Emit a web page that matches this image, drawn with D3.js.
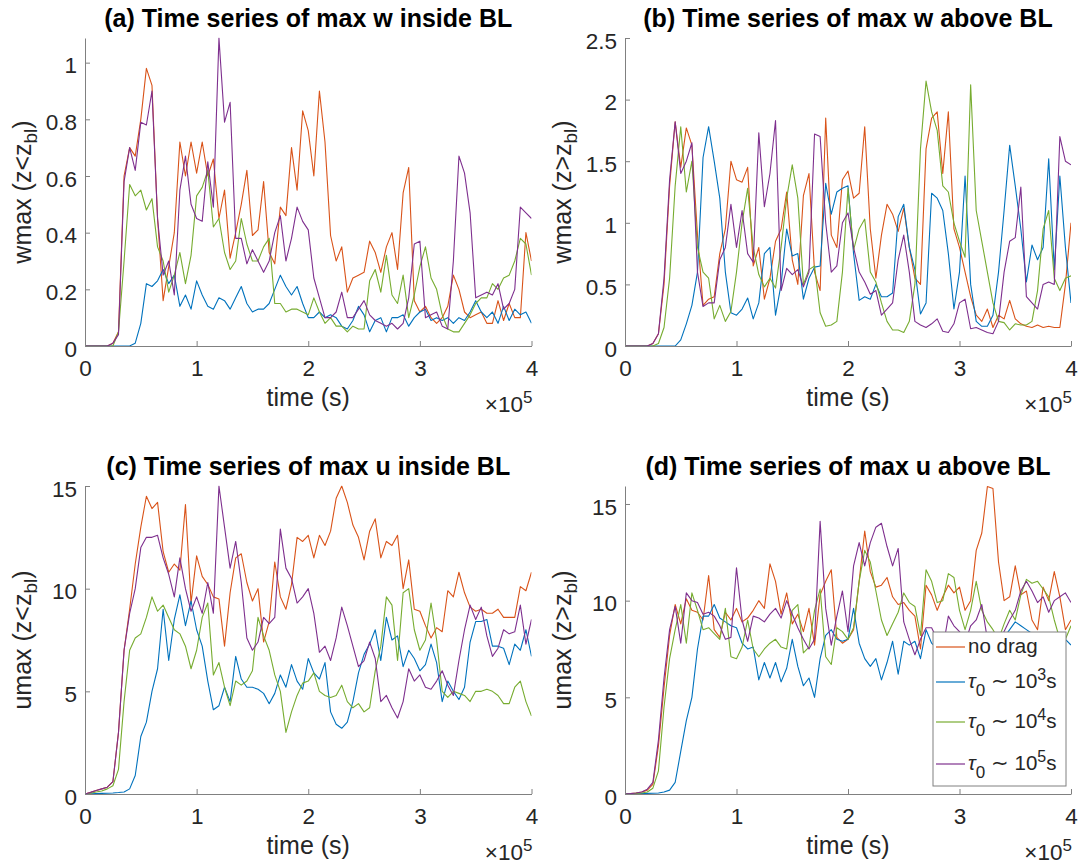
<!DOCTYPE html>
<html>
<head>
<meta charset="utf-8">
<script src="https://cdn.jsdelivr.net/npm/d3@7"></script>
<style>
  html, body { margin: 0; padding: 0; background: #ffffff; }
  svg { display: block; font-family: "Liberation Sans", Arial, Helvetica, sans-serif; }
</style>
</head>
<body>
<svg id="chart" width="1078" height="868"></svg>
<script>
// ---------------- data ----------------
const timeSec = [0,5000,10000,15000,20000,25000,30000,35000,40000,45000,50000,55000,60000,65000,70000,75000,80000,85000,90000,95000,
  100000,105000,110000,115000,120000,125000,130000,135000,140000,145000,150000,155000,160000,165000,170000,175000,180000,185000,190000,195000,
  200000,205000,210000,215000,220000,225000,230000,235000,240000,245000,250000,255000,260000,265000,270000,275000,280000,285000,290000,295000,
  300000,305000,310000,315000,320000,325000,330000,335000,340000,345000,350000,355000,360000,365000,370000,375000,380000,385000,390000,395000,400000];

const seriesNames = ["no drag", "tau3", "tau4", "tau5"];
const seriesColors = ["#D95319", "#0072BD", "#77AC30", "#7E2F8E"];

// (a) max w inside BL
const wInNoDrag = [0,0,0,0,0,0.01,0.05,0.6,0.7,0.67,0.8,0.98,0.92,0.45,0.16,0.28,0.4,0.72,0.6,0.72,0.61,0.72,0.6,0.66,0.45,0.55,0.31,0.4,0.5,0.62,0.39,0.41,0.58,0.33,0.29,0.49,0.46,0.7,0.55,0.83,0.76,0.6,0.9,0.72,0.39,0.3,0.35,0.19,0.24,0.25,0.26,0.37,0.33,0.26,0.35,0.4,0.27,0.54,0.63,0.16,0.12,0.14,0.1,0.08,0.1,0.14,0.25,0.2,0.12,0.1,0.11,0.12,0.08,0.08,0.16,0.09,0.15,0.1,0.1,0.4,0.3];
const wInTau3 = [0,0,0,0,0,0,0,0,0,0.01,0.08,0.22,0.21,0.23,0.27,0.22,0.25,0.14,0.18,0.13,0.23,0.18,0.14,0.13,0.17,0.16,0.13,0.17,0.21,0.15,0.12,0.13,0.13,0.15,0.2,0.25,0.21,0.18,0.21,0.15,0.1,0.1,0.12,0.1,0.11,0.1,0.07,0.06,0.09,0.14,0.11,0.05,0.09,0.1,0.05,0.1,0.1,0.11,0.07,0.1,0.12,0.13,0.09,0.1,0.09,0.1,0.08,0.1,0.09,0.12,0.16,0.12,0.1,0.12,0.08,0.14,0.09,0.13,0.11,0.12,0.08];
const wInTau4 = [0,0,0,0,0,0,0.05,0.3,0.57,0.53,0.55,0.48,0.52,0.35,0.3,0.19,0.25,0.33,0.22,0.32,0.53,0.56,0.62,0.42,0.45,0.33,0.27,0.3,0.45,0.36,0.3,0.3,0.35,0.38,0.15,0.15,0.12,0.13,0.13,0.12,0.11,0.17,0.12,0.08,0.1,0.07,0.07,0.05,0.07,0.06,0.06,0.23,0.27,0.19,0.32,0.18,0.15,0.25,0.1,0.18,0.28,0.35,0.24,0.2,0.11,0.06,0.05,0.05,0.08,0.11,0.15,0.17,0.17,0.22,0.2,0.24,0.25,0.3,0.38,0.36,0.25];
const wInTau5 = [0,0,0,0,0,0.01,0.04,0.58,0.7,0.62,0.79,0.78,0.9,0.45,0.25,0.3,0.18,0.55,0.67,0.5,0.45,0.44,0.65,0.49,1.087,0.79,0.86,0.38,0.38,0.29,0.34,0.3,0.26,0.3,0.4,0.46,0.3,0.38,0.49,0.44,0.41,0.24,0.17,0.1,0.1,0.12,0.19,0.1,0.1,0.13,0.16,0.11,0.09,0.08,0.07,0.08,0.06,0.08,0.17,0.36,0.37,0.1,0.11,0.12,0.07,0.06,0.3,0.67,0.61,0.47,0.17,0.18,0.19,0.18,0.22,0.13,0.15,0.2,0.49,0.47,0.45];

// (b) max w above BL
const wAbNoDrag = [0,0,0,0,0,0.02,0.1,0.5,1.3,1.82,1.45,1.77,1.63,0.9,0.33,0.38,0.4,0.75,0.95,1.5,1.35,1.33,1.45,0.65,0.8,0.38,0.55,0.85,0.95,1.25,0.7,0.5,1.22,1.4,0.6,0.45,1.85,0.9,0.8,1.35,1.42,1.2,1.24,1.78,0.95,0.55,0.9,1.15,1.07,0.93,1.12,0.8,0.55,0.5,1.6,1.85,1.9,1.4,1.9,0.95,0.8,0.6,0.4,0.25,0.2,0.3,0.15,0.25,0.22,0.37,0.22,0.18,0.16,0.15,0.17,0.15,0.16,0.15,0.15,0.5,1.0];
const wAbTau3 = [0,0,0,0,0,0,0,0,0,0,0.05,0.18,0.33,0.6,1.53,1.78,1.5,1.2,0.6,0.27,0.25,0.3,0.39,0.22,0.35,0.75,0.8,0.25,0.5,0.95,0.73,0.75,0.38,0.55,0.64,0.65,1.32,1.07,1.25,1.28,1.3,0.75,0.37,0.4,0.38,0.5,0.4,0.4,0.43,1.05,1.15,0.8,0.62,0.26,0.35,1.24,1.2,1.1,0.75,0.3,0.6,1.38,0.5,0.2,0.16,0.16,0.25,0.6,1.1,1.63,1.3,0.95,0.52,0.82,0.7,0.8,1.52,0.62,1.38,0.8,0.35];
const wAbTau4 = [0,0,0,0,0,0,0.02,0.15,0.55,1.3,1.78,1.25,1.5,0.8,0.6,0.55,0.22,0.33,0.2,0.28,0.6,1.0,1.28,0.8,0.58,0.48,0.55,0.47,0.8,1.2,1.47,1.2,0.5,0.62,0.65,0.27,0.16,0.17,0.2,0.6,1.28,0.78,0.95,1.03,0.6,0.52,0.35,0.2,0.13,0.13,0.11,0.2,0.5,1.6,2.15,1.9,1.75,1.3,1.25,1.0,0.85,0.72,2.12,1.1,0.85,0.6,0.35,0.2,0.19,0.13,0.18,0.17,0.17,0.2,0.45,0.95,1.1,0.55,0.45,0.55,0.57];
const wAbTau5 = [0,0,0,0,0,0.02,0.1,0.55,1.35,1.82,1.4,1.5,1.65,0.6,0.32,0.35,0.35,0.7,0.8,1.15,0.8,1.1,0.75,0.68,1.73,1.13,1.4,1.83,0.45,0.63,0.58,0.62,0.48,0.6,1.72,1.7,1.0,0.6,0.65,1.0,1.08,0.8,0.6,0.52,0.42,0.45,0.25,0.3,0.35,0.7,0.9,0.6,0.2,0.17,0.15,0.18,0.22,0.12,0.11,0.18,0.35,0.38,0.14,0.15,0.13,0.11,0.1,0.2,0.6,0.85,0.88,1.29,0.4,0.35,0.3,0.5,0.52,0.5,1.7,1.5,1.47];

// (c) max u inside BL
const uInNoDrag = [0,0.08,0.17,0.25,0.33,0.6,3.0,7.0,9.0,11.2,13.0,14.5,13.9,14.2,11.8,10.8,11.2,10.9,14.1,9.3,11.6,10.6,10.2,9.6,9.5,7.2,9.8,11.5,11.7,10.3,9.4,10.0,7.4,8.4,11.3,9.6,9.0,10.2,12.5,12.3,12.6,11.5,12.6,12.1,12.8,14.4,15.0,14.2,13.1,12.5,11.4,12.8,13.4,11.5,12.3,12.1,12.6,10.0,11.4,9.0,8.9,8.2,7.6,8.1,7.9,9.9,9.6,10.8,9.8,9.1,8.9,9.0,8.8,8.8,9.0,8.6,8.6,8.6,10.1,9.9,10.8];
const uInTau3 = [0,0.01,0.02,0.03,0.04,0.05,0.07,0.1,0.25,0.9,2.8,3.5,5.0,6.1,9.0,6.5,8.5,9.7,8.2,9.4,8.0,7.2,5.5,4.1,4.3,5.2,4.5,6.7,5.6,5.2,5.2,5.1,4.9,4.4,4.9,5.8,5.2,6.3,5.5,5.1,6.6,5.9,5.6,6.4,4.0,3.4,3.2,3.5,4.5,5.9,6.8,7.3,8.0,6.5,8.6,7.5,7.7,6.2,7.0,6.6,6.0,6.3,7.3,6.4,4.5,5.5,5.0,4.6,5.2,7.4,8.4,8.4,8.5,7.2,7.2,7.1,6.3,7.3,7.0,8.0,6.7];
const uInTau4 = [0,0.04,0.1,0.15,0.25,0.4,1.2,4.5,7.0,7.6,7.8,8.6,9.6,8.9,9.2,8.6,8.0,7.8,7.2,6.1,7.0,8.6,9.3,5.8,6.4,5.2,4.3,5.5,5.3,5.5,6.0,8.6,7.7,7.0,5.8,5.0,3.0,4.0,4.8,5.4,5.5,5.9,5.0,4.8,4.7,4.8,5.3,4.5,4.2,4.4,4.0,4.2,6.0,7.2,9.6,9.2,6.5,9.8,10.0,8.0,7.0,7.5,9.3,7.5,5.0,4.7,5.0,4.9,4.8,4.5,5.0,5.0,5.1,5.0,4.8,4.4,4.4,5.2,5.5,4.5,3.8];
const uInTau5 = [0,0.08,0.17,0.25,0.33,0.6,3.0,7.0,8.8,10.0,12.0,12.5,12.5,12.6,11.5,10.7,9.6,11.5,10.0,8.9,9.6,8.8,10.3,8.8,15.0,13.0,11.0,12.3,10.3,7.6,7.0,7.4,8.6,8.3,8.6,12.9,11.0,10.5,9.3,9.6,10.0,8.8,6.9,7.2,6.5,7.6,9.1,8.2,7.2,6.2,6.5,7.4,6.6,4.5,4.8,4.2,3.7,4.5,6.1,5.5,5.8,5.2,5.1,5.5,6.0,5.3,4.8,6.5,8.0,9.2,8.5,9.1,7.7,6.7,7.1,8.0,7.8,7.9,9.2,7.3,8.5];

// (d) max u above BL
const uAbNoDrag = [0,0.02,0.05,0.1,0.2,0.5,2.5,5.5,8.2,9.8,8.8,10.1,9.5,9.4,9.0,11.3,8.5,8.1,9.4,9.0,9.6,8.9,9.1,9.5,10.0,9.6,11.9,11.0,9.3,10.4,8.8,9.3,8.4,9.6,7.7,10.3,11.0,11.6,8.1,7.8,8.0,8.5,11.0,13.6,11.5,10.7,10.8,11.2,10.2,9.8,9.9,9.5,9.2,7.5,10.8,10.3,9.5,10.2,10.8,10.4,10.7,9.5,10.0,12.6,13.5,15.9,15.8,12.0,10.0,10.2,11.8,10.3,10.5,9.0,8.5,10.7,10.0,11.5,10.2,8.5,9.0];
const uAbTau3 = [0,0,0.01,0.02,0.03,0.04,0.05,0.1,0.2,0.6,2.2,3.8,5.0,7.5,9.2,9.2,9.8,9.1,8.9,8.7,8.6,7.8,7.5,7.6,5.9,6.8,6.0,6.8,5.8,6.5,8.0,6.6,5.6,6.0,5.0,7.0,8.2,8.5,8.0,7.9,8.0,9.6,7.8,7.0,6.6,7.0,5.9,6.8,7.9,6.2,7.9,7.7,7.9,7.0,8.5,7.8,7.5,7.4,7.2,7.8,7.4,7.0,7.5,7.3,7.8,7.6,7.5,7.8,8.1,8.5,8.9,8.7,8.5,8.3,8.0,8.2,7.9,8.1,8.3,8.0,7.7];
const uAbTau4 = [0,0.01,0.03,0.05,0.1,0.3,1.2,4.5,7.0,8.5,9.8,7.8,10.4,9.5,8.5,8.6,8.3,8.0,9.6,7.1,7.0,7.6,9.0,7.5,7.1,7.5,7.8,8.0,7.6,7.5,9.5,9.8,7.3,7.6,9.5,10.6,7.1,6.7,8.6,8.4,8.0,8.6,11.0,12.6,12.0,10.5,9.0,8.2,8.8,9.4,10.4,9.9,9.7,8.2,11.6,11.0,9.9,10.0,11.4,11.2,9.5,8.5,9.5,11.0,9.5,8.9,8.5,8.0,8.8,9.5,9.0,10.3,11.1,10.9,11.0,10.6,10.2,9.0,8.0,8.0,8.7];
const uAbTau5 = [0,0.02,0.05,0.1,0.25,0.6,2.8,6.0,8.5,9.7,7.8,10.4,10.0,9.9,9.3,9.4,9.2,8.7,8.0,8.1,11.7,9.0,7.9,9.2,9.1,8.9,9.3,9.6,9.1,10.0,9.3,8.6,8.0,7.5,8.0,14.1,9.6,7.7,9.2,10.5,8.4,11.8,13.0,11.8,13.0,13.8,14.0,12.8,11.8,12.7,8.9,8.0,7.2,8.0,8.6,8.6,8.0,7.5,9.2,8.7,8.4,7.8,8.7,9.0,9.8,8.0,7.8,8.2,8.4,9.0,9.5,10.5,11.0,10.5,9.9,10.2,9.4,10.0,10.2,10.4,9.9];

// ticks
const xTickValues = [0, 100000, 200000, 300000, 400000];
const xTickLabels = ["0", "1", "2", "3", "4"];
const yTicksWIn = [0, 0.2, 0.4, 0.6, 0.8, 1];
const yTickLabelsWIn = ["0", "0.2", "0.4", "0.6", "0.8", "1"];
const yTicksWAb = [0, 0.5, 1, 1.5, 2, 2.5];
const yTickLabelsWAb = ["0", "0.5", "1", "1.5", "2", "2.5"];
const yTicksU = [0, 5, 10, 15];
const yTickLabelsU = ["0", "5", "10", "15"];

const titles = ["(a) Time series of max w inside BL", "(b) Time series of max w above BL",
                "(c) Time series of max u inside BL", "(d) Time series of max u above BL"];
const yLabelMain = ["wmax (z<z", "wmax (z>z", "umax (z<z", "umax (z>z"];
const yLabelSub = "bl";
const xLabelText = "time (s)";
const legendLabels = [
  {main: "no drag"},
  {tau: "τ", sub: "0", mid: " ∼ 10", sup: "3", end: "s"},
  {tau: "τ", sub: "0", mid: " ∼ 10", sup: "4", end: "s"},
  {tau: "τ", sub: "0", mid: " ∼ 10", sup: "5", end: "s"}
];

// ---------------- layout ----------------
const FONT = '"Liberation Sans", Arial, Helvetica, sans-serif';
const AX = "#808080", TXT = "#262626";
const TICK_FS = 22.5, LAB_FS = 25, TITLE_FS = 25, LEG_FS = 20.5;

const panels = [
  {title: titles[0], ylab: yLabelMain[0], yMax: 1.087, yT: yTicksWIn, yTL: yTickLabelsWIn,
   data: [wInNoDrag, wInTau3, wInTau4, wInTau5], l: 85, r: 531.5, t: 38, b: 346},
  {title: titles[1], ylab: yLabelMain[1], yMax: 2.5, yT: yTicksWAb, yTL: yTickLabelsWAb,
   data: [wAbNoDrag, wAbTau3, wAbTau4, wAbTau5], l: 625, r: 1071, t: 38, b: 346},
  {title: titles[2], ylab: yLabelMain[2], yMax: 15, yT: yTicksU, yTL: yTickLabelsU,
   data: [uInNoDrag, uInTau3, uInTau4, uInTau5], l: 85, r: 531.5, t: 486, b: 794},
  {title: titles[3], ylab: yLabelMain[3], yMax: 15.93, yT: yTicksU, yTL: yTickLabelsU,
   data: [uAbNoDrag, uAbTau3, uAbTau4, uAbTau5], l: 625, r: 1071, t: 486, b: 794, legend: true}
];

const svg = d3.select("#chart");
svg.append("rect").attr("width", 1078).attr("height", 868).attr("fill", "#fff");

panels.forEach((p, pi) => {
  const x = d3.scaleLinear().domain([0, 400000]).range([p.l, p.r]);
  const y = d3.scaleLinear().domain([0, p.yMax]).range([p.b, p.t]);
  const g = svg.append("g");

  const clipId = "clip" + pi;
  svg.append("defs").append("clipPath").attr("id", clipId)
    .append("rect").attr("x", p.l).attr("y", p.t - 0.5).attr("width", p.r - p.l).attr("height", p.b - p.t + 0.5);

  // lines
  const lineGen = d3.line()
    .x((d, i) => x(timeSec[i]))
    .y(d => y(d));
  const lg = g.append("g").attr("clip-path", `url(#${clipId})`);
  p.data.forEach((arr, si) => {
    const n = Math.min(arr.length, timeSec.length);
    lg.append("path")
      .datum(arr.slice(0, n))
      .attr("fill", "none")
      .attr("stroke", seriesColors[si])
      .attr("stroke-width", 1.1)
      .attr("stroke-linejoin", "round")
      .attr("d", lineGen);
  });

  // axes
  const xAxis = d3.axisBottom(x).tickValues(xTickValues).tickFormat((d, i) => xTickLabels[i])
    .tickSizeInner(-5).tickSizeOuter(0).tickPadding(14);
  const yAxis = d3.axisLeft(y).tickValues(p.yT).tickFormat((d, i) => p.yTL[i])
    .tickSizeInner(-5).tickSizeOuter(0).tickPadding(8);
  const gx = g.append("g").attr("transform", `translate(0,${p.b})`).call(xAxis);
  const gy = g.append("g").attr("transform", `translate(${p.l},0)`).call(yAxis);
  [gx, gy].forEach(ax => {
    ax.select(".domain").attr("stroke", AX).attr("stroke-width", 1);
    ax.selectAll(".tick line").attr("stroke", AX).attr("stroke-width", 1);
    ax.selectAll(".tick text").attr("fill", TXT).style("font-size", TICK_FS + "px").style("font-family", FONT);
  });
  gy.selectAll(".tick text").attr("dy", "0.45em");

  // title
  g.append("text").attr("x", (p.l + p.r) / 2).attr("y", p.t - 11.5)
    .attr("text-anchor", "middle").attr("fill", "#000")
    .style("font-size", TITLE_FS + "px").style("font-weight", "bold").style("font-family", FONT)
    .text(p.title);

  // x label
  g.append("text").attr("x", (p.l + p.r) / 2).attr("y", p.b + 59.5)
    .attr("text-anchor", "middle").attr("fill", TXT)
    .style("font-size", LAB_FS + "px").style("font-family", FONT)
    .text(xLabelText);

  // x10^5 multiplier
  const mt = g.append("text").attr("x", p.r + 1).attr("y", p.b + 66)
    .attr("text-anchor", "end").attr("fill", TXT)
    .style("font-size", TICK_FS + "px").style("font-family", FONT);
  mt.append("tspan").text("×10");
  mt.append("tspan").attr("dy", -9).style("font-size", "17px").text("5");

  // y label (rotated)
  const yl = g.append("text")
    .attr("transform", `translate(${p.l - 54},${(p.t + p.b) / 2}) rotate(-90)`)
    .attr("text-anchor", "middle").attr("fill", TXT)
    .style("font-size", LAB_FS + "px").style("font-family", FONT);
  yl.append("tspan").text(p.ylab);
  yl.append("tspan").attr("dy", 6).style("font-size", "19px").text(yLabelSub);
  yl.append("tspan").attr("dy", -6).text(")");

  // legend
  if (p.legend) {
    const lgx = 933, lgy = 632, lgw = 133, lgh = 154;
    const leg = g.append("g");
    leg.append("rect").attr("x", lgx).attr("y", lgy).attr("width", lgw).attr("height", lgh)
      .attr("fill", "#fff").attr("stroke", AX).attr("stroke-width", 1);
    const rowY = [647, 682, 722, 764];
    legendLabels.forEach((lab, i) => {
      leg.append("line").attr("x1", 936).attr("x2", 965).attr("y1", rowY[i]).attr("y2", rowY[i])
        .attr("stroke", seriesColors[i]).attr("stroke-width", 1.2);
      const t = leg.append("text").attr("x", 968).attr("y", rowY[i] + 6).attr("fill", TXT)
        .style("font-size", LEG_FS + "px").style("font-family", FONT);
      if (lab.main) {
        t.text(lab.main);
      } else {
        t.append("tspan").style("font-style", "italic").text(lab.tau);
        t.append("tspan").attr("dy", 8).style("font-size", "17px").text(lab.sub);
        t.append("tspan").attr("dy", -8).text(lab.mid);
        t.append("tspan").attr("dy", -8).style("font-size", "16px").text(lab.sup);
        t.append("tspan").attr("dy", 8).text(lab.end);
      }
    });
  }
});
</script>
</body>
</html>
